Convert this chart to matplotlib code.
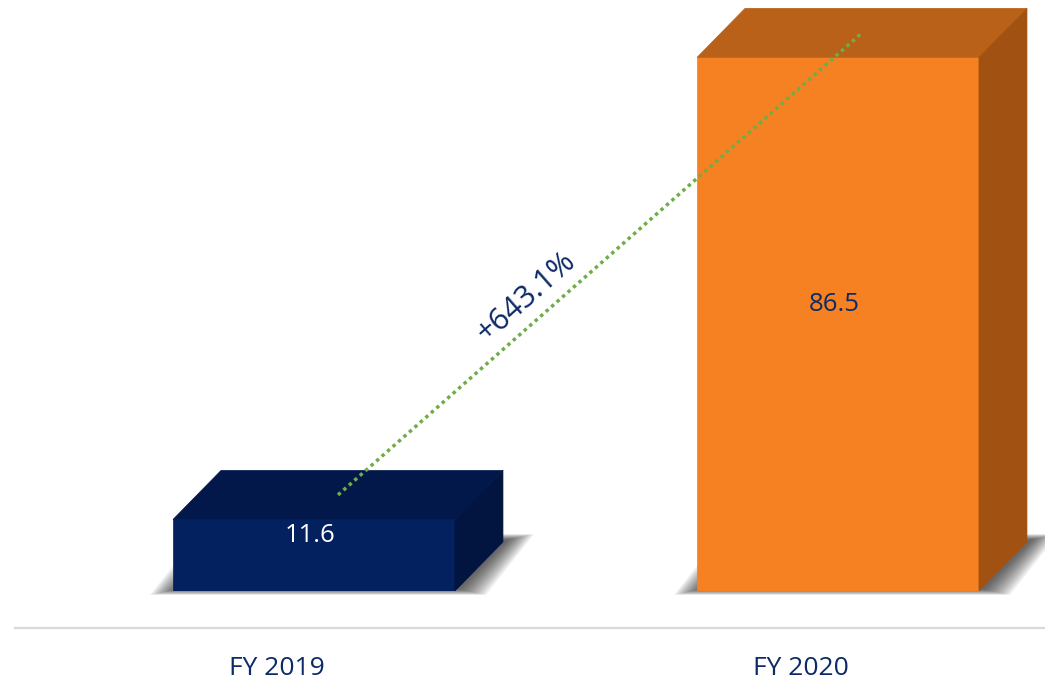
import matplotlib.pyplot as plt
import numpy as np
from matplotlib.patches import Polygon

plt.rcParams['font.family'] = ['Open Sans', 'DejaVu Sans']

# data
years = ['FY 2019', 'FY 2020']
values = [11.6, 86.5]
growth_label = '+643.1%'

front_cols = ['#03205F', '#F68122']
top_cols = ['#02184A', '#BA6119']
side_cols = ['#011540', '#A15213']
value_cols = ['white', '#0B2A66']
navy = '#0B2A66'

fig = plt.figure(figsize=(10.45, 6.84), dpi=100)
ax = fig.add_axes([15/1045, 93/684, 1 - 15/1045, 591/684])
ax.set_xlim(-0.5706, 1.395)
ax.set_ylim(0, 95.8)

x = np.arange(len(values))
width = 0.538

# depth of the 3d look, in pixels -> data units
def px2data(px, py):
    o = ax.transData.transform((0, 0))
    inv = ax.transData.inverted()
    p = inv.transform((o[0] + px, o[1] + py))
    return p[0], p[1]

dx, dy = px2data(48, 49)

# soft shadow around the foot of each bar
for i, v in enumerate(values):
    x0 = x[i] - width/2
    x1 = x[i] + width/2
    sx, sy = px2data(4, 2)
    for k in range(14):
        r = 27 * (1 - k / 14.0)
        rx, _ = px2data(r, 0)
        _, ry = px2data(0, r * 0.22)
        pts = [(x0 - rx + sx, -ry + sy), (x1 + rx + sx, -ry + sy),
               (x1 + dx + rx + sx, dy + ry + sy), (x0 + dx - rx + sx, dy + ry + sy)]
        ax.add_patch(Polygon(pts, closed=True, facecolor='black', alpha=0.06,
                             linewidth=0, zorder=1, clip_on=False))

# front faces
ax.bar(x, values, width=width, color=front_cols, edgecolor=front_cols,
       linewidth=0.5, zorder=2)

# top and side faces
for i, v in enumerate(values):
    x0 = x[i] - width/2
    x1 = x[i] + width/2
    top = [(x0, v), (x1, v), (x1 + dx, v + dy), (x0 + dx, v + dy)]
    side = [(x1, 0), (x1 + dx, dy), (x1 + dx, v + dy), (x1, v)]
    ax.add_patch(Polygon(top, closed=True, facecolor=top_cols[i],
                         edgecolor=top_cols[i], linewidth=0.5, zorder=2))
    ax.add_patch(Polygon(side, closed=True, facecolor=side_cols[i],
                         edgecolor=side_cols[i], linewidth=0.5, zorder=2))
    ax.annotate(f'{v:.1f}', xy=(x[i], v / 2), xytext=(-3, 14),
                textcoords='offset points', ha='center', va='center',
                fontsize=18.5, color=value_cols[i], zorder=4)

# growth line between bar tops
start = (x[0] + dx / 2, values[0] + dy / 2)
end = (x[1] + dx / 2, values[1] + dy / 2)
ax.plot([start[0], end[0]], [start[1], end[1]], color='#70AD47',
        linewidth=2.5, linestyle=(0, (1, 1.1)), dash_capstyle='butt', zorder=3)

p0 = ax.transData.transform(start)
p1 = ax.transData.transform(end)
ang = np.arctan2(p1[1] - p0[1], p1[0] - p0[0])
t = 0.39
mid = (start[0] + t * (end[0] - start[0]), start[1] + t * (end[1] - start[1]))
off = 17
ax.annotate(growth_label, xy=mid, xytext=(-np.sin(ang) * off, np.cos(ang) * off),
            textcoords='offset points', ha='center', va='center',
            rotation=np.degrees(ang), rotation_mode='anchor',
            fontsize=22, color=navy, zorder=4)

# axis styling
for s in ['top', 'right', 'left']:
    ax.spines[s].set_visible(False)
ax.spines['bottom'].set_position(('outward', 26.6))
ax.spines['bottom'].set_color('#D9D9D9')
ax.spines['bottom'].set_linewidth(1.6)
ax.set_yticks([])
ax.set_xticks(x - 0.07)
ax.set_xticklabels(years, fontsize=19, color=navy)
ax.tick_params(axis='x', length=0, pad=20)
ax.patch.set_alpha(0)

fig.savefig('out.png', dpi=100)
